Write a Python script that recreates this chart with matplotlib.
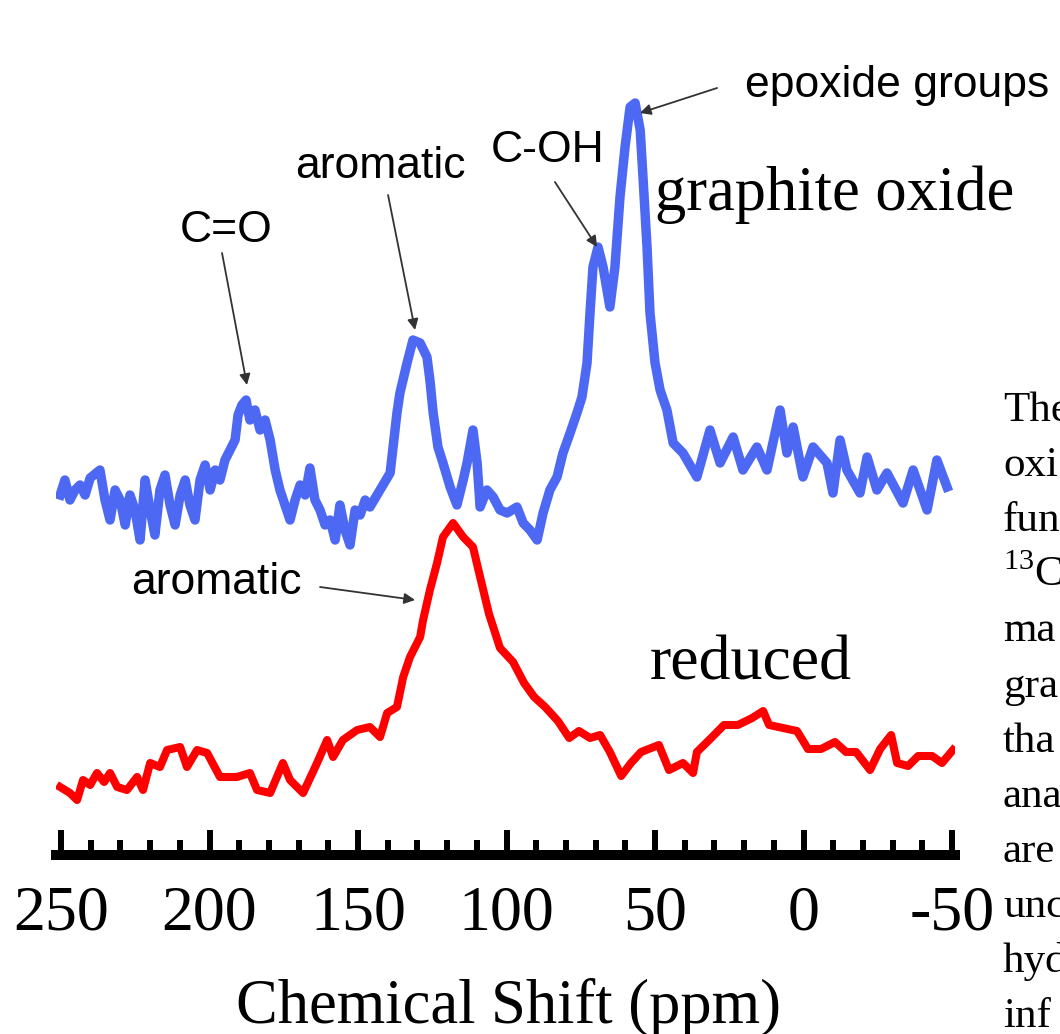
import matplotlib.pyplot as plt

# 13C NMR spectra, intensity in arbitrary units (height above the axis)
go_shift = [250.3, 248.7, 247.0, 245.3, 243.6, 241.9, 240.2, 236.9, 235.2, 233.5,
            231.8, 230.1, 228.4, 226.8, 225.1, 223.4, 221.7, 220.0, 218.4, 216.7,
            215.0, 213.3, 211.6, 209.9, 208.2, 206.6, 204.9, 203.2, 201.5, 199.8,
            198.1, 196.5, 194.8, 193.1, 191.4, 190.4, 189.1, 187.7, 186.4, 184.7,
            183.0, 181.3, 179.6, 177.9, 176.3, 174.6, 172.9, 171.2, 169.5, 167.8,
            166.2, 164.5, 162.8, 161.1, 159.4, 157.7, 156.1, 154.4, 152.7, 151.0,
            149.3, 147.6, 146.0, 142.6, 139.2, 138.2, 136.9, 135.9, 133.5, 131.5,
            129.1, 126.8, 125.8, 124.7, 123.1, 121.4, 119.0, 116.7, 114.6, 113.3,
            111.3, 109.9, 108.9, 106.6, 104.5, 102.2, 99.8, 96.5, 94.4, 92.1,
            89.7, 87.7, 85.4, 83.0, 81.0, 78.6, 76.3, 74.6, 72.9, 71.9,
            70.9, 69.2, 67.5, 65.2, 63.5, 61.8, 60.1, 58.4, 56.7, 55.0,
            54.0, 52.7, 51.7, 50.0, 48.3, 46.0, 43.9, 40.6, 35.9, 31.5,
            28.1, 23.7, 20.4, 15.7, 12.3, 7.9, 5.6, 3.5, 0.2, -3.2,
            -7.9, -9.9, -12.3, -14.6, -19.0, -21.4, -24.7, -28.1, -33.5, -36.9,
            -41.6, -44.9, -48.3]
go_int = [360, 375, 355, 365, 370, 360, 377, 385, 355, 335,
          365, 355, 330, 360, 345, 315, 375, 345, 320, 365,
          380, 350, 330, 360, 375, 350, 335, 375, 390, 365,
          385, 375, 395, 405, 415, 440, 450, 455, 435, 445,
          425, 435, 415, 385, 365, 350, 335, 355, 370, 360,
          387, 355, 345, 330, 335, 315, 350, 325, 310, 345,
          340, 355, 348, 365, 382, 408, 442, 462, 492, 515,
          512, 498, 475, 442, 408, 392, 368, 350, 375, 392,
          425, 392, 348, 365, 358, 345, 342, 348, 332, 325,
          315, 342, 365, 378, 402, 422, 442, 458, 492, 542,
          588, 608, 588, 548, 588, 658, 708, 748, 752, 725,
          675, 608, 542, 492, 465, 445, 412, 402, 378, 425,
          392, 418, 385, 408, 385, 445, 402, 428, 378, 408,
          392, 362, 415, 385, 362, 398, 365, 382, 352, 385,
          345, 395, 368]

rgo_shift = [250.3, 247.0, 244.6, 242.6, 240.2, 237.9, 235.5, 233.5, 231.1, 227.8,
             224.4, 222.4, 220.0, 216.7, 214.3, 209.9, 207.6, 204.2, 200.8, 196.5,
             190.8, 186.4, 184.0, 179.6, 175.3, 172.9, 168.5, 163.8, 160.4, 158.4,
             155.1, 150.3, 146.0, 142.6, 140.2, 136.9, 134.8, 132.5, 129.1, 128.1,
             125.8, 123.4, 121.4, 118.0, 114.6, 111.3, 108.9, 105.9, 102.2, 97.8,
             94.1, 90.7, 87.0, 82.7, 78.9, 75.6, 71.9, 68.5, 65.2, 61.4,
             58.1, 54.7, 48.7, 45.3, 40.6, 37.2, 35.9, 31.1, 26.8, 22.1,
             17.3, 13.6, 11.6, 6.9, 2.2, -1.5, -5.9, -10.6, -14.3, -17.7,
             -22.4, -25.8, -29.5, -31.5, -35.2, -38.6, -43.3, -46.6, -50.3]
rgo_int = [68, 62, 55, 75, 70, 82, 73, 82, 68, 65,
           78, 65, 92, 88, 105, 108, 88, 105, 102, 78,
           78, 82, 65, 62, 92, 75, 62, 92, 115, 98,
           115, 125, 128, 118, 142, 148, 178, 198, 218, 235,
           265, 292, 318, 332, 318, 308, 278, 241, 207, 193,
           172, 158, 148, 134, 117, 124, 117, 120, 103, 79,
           92, 103, 110, 85, 92, 82, 103, 117, 130, 130,
           137, 144, 130, 127, 124, 106, 106, 113, 103, 103,
           85, 106, 120, 92, 89, 99, 99, 92, 105]

tick_values = [250, 200, 150, 100, 50, 0, -50]
tick_labels = ['250', '200', '150', '100', '50', '0', '-50']

side_text = ['The', 'oxi', 'fun', '$^{13}$C', 'ma', 'gra', 'tha', 'ana', 'are',
             'unc', 'hyd', 'inf']

serif = 'Liberation Serif'
sans = 'Liberation Sans'
plt.rcParams['mathtext.fontset'] = 'custom'
plt.rcParams['mathtext.rm'] = serif

fig = plt.figure(figsize=(10.6, 10.34), dpi=100)
ax = fig.add_axes([56 / 1060, 179 / 1034, 899 / 1060, 855 / 1034])

ax.plot(go_shift, go_int, color='#4d69f3', lw=6.8)
ax.plot(rgo_shift, rgo_int, color='#ff0000', lw=5.8)

ax.set_xlim(251.7, -51.0)
ax.set_ylim(0, 855)

for s in ['left', 'right', 'top']:
    ax.spines[s].set_visible(False)
ax.spines['bottom'].set_linewidth(7.2)
ax.set_yticks([])
ax.set_xticks(tick_values)
ax.set_xticklabels(tick_labels, fontfamily=serif, fontsize=46)
ax.set_xticks(range(-50, 251, 10), minor=True)
ax.tick_params(axis='x', which='major', direction='in', length=18, width=4.3,
               pad=22, color='black')
ax.tick_params(axis='x', which='minor', direction='in', length=11, width=4.3,
               color='black')

# peak labels
arrow = dict(arrowstyle='-|>', color='#333333', lw=1.3, mutation_scale=16,
             shrinkA=0, shrinkB=0)
labels = [('C=O', (194.4, 625), (195.8, 602), (187.4, 470)),
          ('aromatic', (142.6, 688), (139.9, 660), (130.8, 525)),
          ('C-OH', (86.0, 704), (83.7, 673), (69.5, 608)),
          ('epoxide groups', (-31.5, 769), (29.1, 767), (55.1, 742)),
          ('aromatic', (197.8, 273), (162.8, 268), (130.8, 255))]
for txt, pos, start, tip in labels:
    ax.text(pos[0], pos[1], txt, fontfamily=sans, fontsize=32, ha='center',
            va='center', clip_on=False)
    ax.annotate('', xy=tip, xytext=start, arrowprops=arrow, annotation_clip=False)

ax.text(50.0, 645, 'graphite oxide', fontfamily=serif, fontsize=45,
        ha='left', va='baseline', clip_on=False)
ax.text(51.7, 175, 'reduced', fontfamily=serif, fontsize=46,
        ha='left', va='baseline', clip_on=False)

fig.text(508 / 1060, 1 - 1023 / 1034, 'Chemical Shift (ppm)', fontfamily=serif,
         fontsize=45, ha='center', va='baseline')

# running text of the page, cut off at the right edge
for i, line in enumerate(side_text):
    fig.text(1003 / 1060, 1 - (421 + 55.1 * i) / 1034, line, fontfamily=serif,
             fontsize=31, ha='left', va='baseline')

fig.savefig('out.png', dpi=100)
